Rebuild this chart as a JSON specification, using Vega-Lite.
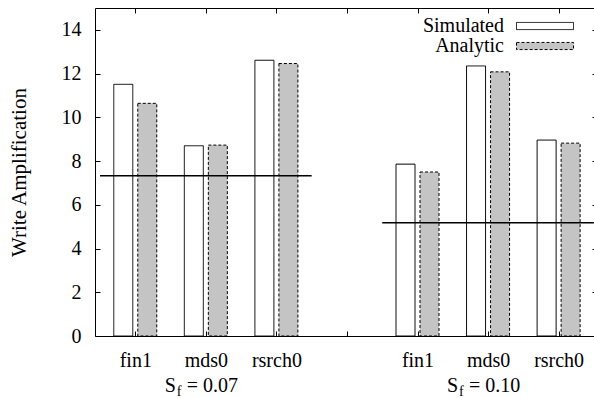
{
  "$schema": "https://vega.github.io/schema/vega-lite/v6.json",
  "width": 499,
  "height": 328,
  "autosize": {"type": "none"},
  "padding": {"left": 95, "top": 8, "right": 0, "bottom": 62},
  "background": "white",
  "config": {
    "font": "Liberation Serif",
    "view": {"stroke": null},
    "axis": {"grid": false, "domainColor": "black", "domainWidth": 1, "tickColor": "black", "tickWidth": 1, "labelColor": "black", "labelFont": "Liberation Serif", "titleFont": "Liberation Serif", "titleColor": "black"}
  },
  "datasets": {
    "bars": [
      {"trace": "fin1", "sf": "0.07", "pos": 1, "series": "Simulated", "wa": 11.51},
      {"trace": "fin1", "sf": "0.07", "pos": 1, "series": "Analytic", "wa": 10.64},
      {"trace": "mds0", "sf": "0.07", "pos": 2, "series": "Simulated", "wa": 8.70},
      {"trace": "mds0", "sf": "0.07", "pos": 2, "series": "Analytic", "wa": 8.73},
      {"trace": "rsrch0", "sf": "0.07", "pos": 3, "series": "Simulated", "wa": 12.61},
      {"trace": "rsrch0", "sf": "0.07", "pos": 3, "series": "Analytic", "wa": 12.46},
      {"trace": "fin1", "sf": "0.10", "pos": 5, "series": "Simulated", "wa": 7.86},
      {"trace": "fin1", "sf": "0.10", "pos": 5, "series": "Analytic", "wa": 7.50},
      {"trace": "mds0", "sf": "0.10", "pos": 6, "series": "Simulated", "wa": 12.35},
      {"trace": "mds0", "sf": "0.10", "pos": 6, "series": "Analytic", "wa": 12.08},
      {"trace": "rsrch0", "sf": "0.10", "pos": 7, "series": "Simulated", "wa": 8.96},
      {"trace": "rsrch0", "sf": "0.10", "pos": 7, "series": "Analytic", "wa": 8.82}
    ],
    "lines": [
      {"sf": "0.07", "start": 0.5, "end": 3.5, "wa": 7.33},
      {"sf": "0.10", "start": 4.5, "end": 7.5, "wa": 5.18}
    ],
    "groups": [
      {"sf": "0.07", "pos": 2, "eq": "= 0.07"},
      {"sf": "0.10", "pos": 6, "eq": "= 0.10"}
    ]
  },
  "layer": [
    {
      "data": {"name": "bars"},
      "transform": [{"filter": "datum.series === 'Simulated'"}],
      "mark": {"type": "bar", "orient": "vertical", "width": 19, "xOffset": -12, "stroke": "black", "strokeWidth": 1, "clip": true},
      "encoding": {
        "x": {"field": "pos", "type": "quantitative", "scale": {"domain": [0.5, 7.4306], "nice": false, "zero": false},
          "axis": {"orient": "bottom", "values": [1, 2, 3, 4, 5, 6, 7], "labelExpr": "datum.value == 1 || datum.value == 5 ? 'fin1' : datum.value == 2 || datum.value == 6 ? 'mds0' : datum.value == 3 || datum.value == 7 ? 'rsrch0' : ''", "tickSize": -5, "labelPadding": 19, "labelFontSize": 20, "title": null, "labelFlush": false, "labelOverlap": false}},
        "y": {"field": "wa", "type": "quantitative", "stack": null, "scale": {"domain": [0, 15], "nice": false},
          "axis": {"orient": "left", "values": [0, 2, 4, 6, 8, 10, 12, 14], "tickSize": -5, "labelPadding": 19, "labelFontSize": 20, "title": "Write Amplification", "titleFontSize": 21, "titleFontWeight": "normal", "titleX": -66, "titleBaseline": "bottom", "labelFlush": false}},
        "fill": {"field": "series", "type": "nominal", "scale": {"domain": ["Simulated", "Analytic"], "range": ["white", "#c4c4c4"]},
          "legend": {"title": null, "orient": "none", "legendX": 440, "legendY": 8, "symbolType": "M-3,-0.375H3V0.375H-3Z", "symbolSize": 361, "symbolStrokeColor": "black", "symbolStrokeWidth": 1, "labelAlign": "right", "labelOffset": -51, "labelFontSize": 20, "labelFont": "Liberation Serif", "labelColor": "black", "padding": 0, "rowPadding": -1}},
        "strokeDash": {"field": "series", "type": "nominal", "scale": {"domain": ["Simulated", "Analytic"], "range": [[1, 0], [3, 2]]},
          "legend": {"title": null, "orient": "none", "legendX": 440, "legendY": 8, "symbolType": "M-3,-0.375H3V0.375H-3Z", "symbolSize": 361, "symbolStrokeColor": "black", "symbolStrokeWidth": 1, "labelAlign": "right", "labelOffset": -51, "labelFontSize": 20, "labelFont": "Liberation Serif", "labelColor": "black", "padding": 0, "rowPadding": -1}}
      }
    },
    {
      "data": {"name": "bars"},
      "transform": [{"filter": "datum.series === 'Analytic'"}],
      "mark": {"type": "bar", "orient": "vertical", "width": 19, "xOffset": 12, "stroke": "black", "strokeWidth": 1, "clip": true},
      "encoding": {
        "x": {"field": "pos", "type": "quantitative",
          "axis": {"orient": "top", "values": [1, 2, 3, 4, 5, 6, 7], "labels": false, "tickSize": -5, "title": null}},
        "y": {"field": "wa", "type": "quantitative", "stack": null,
          "axis": {"orient": "right", "values": [0, 2, 4, 6, 8, 10, 12, 14], "labels": false, "tickSize": -2, "domain": false, "title": null}},
        "fill": {"field": "series", "type": "nominal"},
        "strokeDash": {"field": "series", "type": "nominal"}
      }
    },
    {
      "data": {"name": "lines"},
      "mark": {"type": "rule", "stroke": "black", "strokeWidth": 1.6, "clip": true},
      "encoding": {
        "x": {"field": "start", "type": "quantitative", "axis": null},
        "x2": {"field": "end"},
        "y": {"field": "wa", "type": "quantitative", "axis": null}
      }
    },
    {
      "data": {"name": "groups"},
      "mark": {"type": "text", "align": "right", "baseline": "alphabetic", "dx": -30, "dy": 56, "fontSize": 20, "font": "Liberation Serif", "color": "black"},
      "encoding": {
        "x": {"field": "pos", "type": "quantitative", "axis": null},
        "y": {"datum": 0, "type": "quantitative", "axis": null},
        "text": {"value": "S"}
      }
    },
    {
      "data": {"name": "groups"},
      "mark": {"type": "text", "align": "left", "baseline": "alphabetic", "dx": -29, "dy": 60, "fontSize": 14, "font": "Liberation Serif", "color": "black"},
      "encoding": {
        "x": {"field": "pos", "type": "quantitative", "axis": null},
        "y": {"datum": 0, "type": "quantitative", "axis": null},
        "text": {"value": "f"}
      }
    },
    {
      "data": {"name": "groups"},
      "mark": {"type": "text", "align": "left", "baseline": "alphabetic", "dx": -19, "dy": 56, "fontSize": 20, "font": "Liberation Serif", "color": "black"},
      "encoding": {
        "x": {"field": "pos", "type": "quantitative", "axis": null},
        "y": {"datum": 0, "type": "quantitative", "axis": null},
        "text": {"field": "eq"}
      }
    }
  ],
  "resolve": {"axis": {"x": "independent", "y": "independent"}}
}
